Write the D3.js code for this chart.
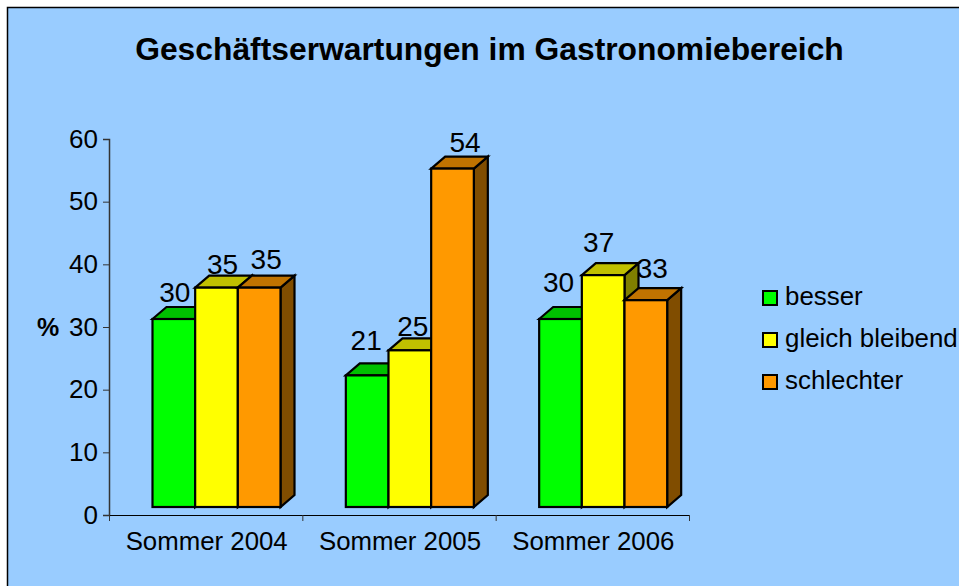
<!DOCTYPE html>
<html>
<head>
<meta charset="utf-8">
<script src="https://cdn.jsdelivr.net/npm/d3@7"></script>
<style>
  html, body { margin: 0; padding: 0; background: #fff; }
  svg { display: block; font-family: "Liberation Sans", Arial, sans-serif; }
</style>
</head>
<body>
<svg id="chart"></svg>
<script>
const categories = ['Sommer 2004', 'Sommer 2005', 'Sommer 2006'];
const seriesNames = ['besser', 'gleich bleibend', 'schlechter'];
const besser = [30, 21, 30];
const gleichBleibend = [35, 25, 37];
const schlechter = [35, 54, 33];
const yTicks = [0, 10, 20, 30, 40, 50, 60];

const width = 959, height = 586;
const faceColors = ['#00ff00', '#ffff00', '#ff9900'];
const topColors = ['#00c000', '#c0c000', '#c07300'];
const sideColors = ['#008000', '#808000', '#804d00'];

// the labels sit by hand in the original, nudged off the bar top: [dx, dy]
const labelNudge = [
  [[1, -17], [6, -13.5], [7, -18.5]],
  [[-1, -25], [3, -14], [12.5, -17]],
  [[-2, -27], [-4.5, -23], [6.5, -22]]
];

const depthX = 14, depthY = 12, floor = 8;

const svg = d3.select('#chart').attr('width', width).attr('height', height);

svg.append('rect')
  .attr('x', 7.5).attr('y', 7.5)
  .attr('width', width).attr('height', height)
  .attr('fill', '#99ccff')
  .attr('stroke', '#000')
  .attr('stroke-width', 1.5);

svg.append('text')
  .attr('x', 489.5).attr('y', 60)
  .attr('text-anchor', 'middle')
  .attr('font-size', 31.8)
  .attr('font-weight', 'bold')
  .text('Geschäftserwartungen im Gastronomiebereich');

const x = d3.scaleBand().domain(categories).range([109, 689]);
const xInner = d3.scaleBand().domain(d3.range(3)).range([43.5, 171.5]);
const y = d3.scaleLinear().domain([0, 60]).range([515, 139]);

// Y axis
const yAxis = svg.append('g')
  .attr('transform', 'translate(109,0)')
  .call(d3.axisLeft(y).tickValues(yTicks).tickSize(6).tickPadding(5));
yAxis.selectAll('text').attr('font-size', 26).attr('font-family', 'inherit').attr('fill', '#000');
yAxis.select('.domain').attr('stroke', '#333').attr('stroke-width', 1.5);
yAxis.selectAll('.tick line').attr('stroke', '#333');

svg.append('text')
  .attr('x', 48).attr('y', 336)
  .attr('text-anchor', 'middle')
  .attr('font-size', 25)
  .attr('font-weight', 'bold')
  .text('%');

// X axis, ticks go between the groups
const xAxis = svg.append('g')
  .attr('transform', 'translate(0,515)')
  .call(d3.axisBottom(x).tickSize(0).tickPadding(17));
xAxis.select('.domain').attr('stroke', '#000');
xAxis.selectAll('text').attr('font-size', 25.8).attr('font-family', 'inherit').attr('fill', '#000').attr('dx', 1);
xAxis.selectAll('line.sep')
  .data(d3.range(4))
  .enter().append('line')
  .attr('class', 'sep')
  .attr('x1', d => 109 + d * x.step() + 0.5)
  .attr('x2', d => 109 + d * x.step() + 0.5)
  .attr('y1', 0).attr('y2', 6)
  .attr('stroke', '#333');

// Bars, drawn left to right so each front covers the neighbour's side
const values = [besser, gleichBleibend, schlechter];
const base = y(0) - floor;
const line = d3.line();

categories.forEach((cat, c) => {
  const g = svg.append('g').attr('stroke', '#000').attr('stroke-width', 2.2).attr('stroke-linejoin', 'miter');
  values.forEach((vals, s) => {
    const x0 = x(cat) + xInner(s);
    const x1 = x0 + xInner.bandwidth();
    const top = y(vals[c]) - floor;
    g.append('path')
      .attr('d', line([[x1, top], [x1 + depthX, top - depthY], [x1 + depthX, base - depthY], [x1, base]]) + 'Z')
      .attr('fill', sideColors[s]);
    g.append('path')
      .attr('d', line([[x0, top], [x0 + depthX, top - depthY], [x1 + depthX, top - depthY], [x1, top]]) + 'Z')
      .attr('fill', topColors[s]);
    g.append('rect')
      .attr('x', x0).attr('y', top)
      .attr('width', x1 - x0).attr('height', base - top)
      .attr('fill', faceColors[s]);
  });
});

// value labels go on top of all bars
categories.forEach((cat, c) => {
  values.forEach((vals, s) => {
    const [dx, dy] = labelNudge[c][s];
    svg.append('text')
      .attr('x', x(cat) + xInner(s) + xInner.bandwidth() / 2 + dx)
      .attr('y', y(vals[c]) - floor + dy)
      .attr('text-anchor', 'middle')
      .attr('font-size', 28)
      .text(vals[c]);
  });
});

// Legend
const legendY = d3.scalePoint().domain(seriesNames).range([298, 382]);
const legend = svg.selectAll('g.legend').data(seriesNames).enter().append('g')
  .attr('class', 'legend')
  .attr('transform', d => `translate(763,${legendY(d)})`);
legend.append('rect')
  .attr('x', 0).attr('y', -7)
  .attr('width', 14).attr('height', 14)
  .attr('fill', (d, i) => faceColors[i])
  .attr('stroke', '#000')
  .attr('stroke-width', 2);
legend.append('text')
  .attr('x', 22).attr('y', 7)
  .attr('font-size', 25.9)
  .text(d => d);
</script>
</body>
</html>
